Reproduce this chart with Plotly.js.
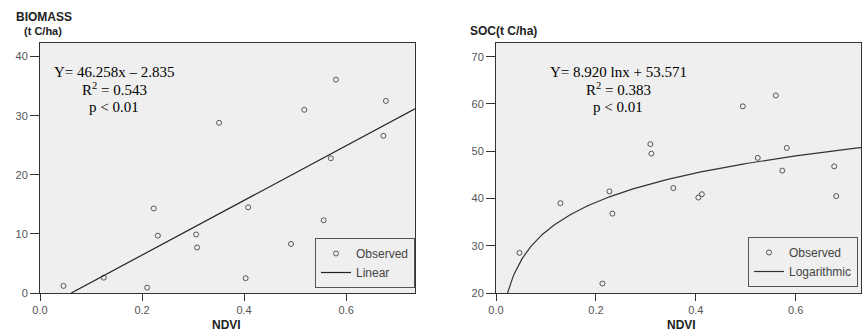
<!DOCTYPE html>
<html>
<head>
<meta charset="utf-8">
<script src="https://cdn.plot.ly/plotly-3.0.1.min.js"></script>
<style>html,body{margin:0;padding:0;background:#fff;}#chart{width:862px;height:333px;}</style>
</head>
<body>
<div id="chart"></div>
<script>
// Left panel: biomass vs NDVI
const ndviBiomass = [0.046, 0.125, 0.210, 0.223, 0.231, 0.306, 0.308, 0.351, 0.403, 0.408, 0.492, 0.518, 0.556, 0.570, 0.580, 0.673, 0.678];
const biomass     = [1.2, 2.6, 0.9, 14.3, 9.7, 9.9, 7.7, 28.8, 2.5, 14.5, 8.3, 31.0, 12.3, 22.8, 36.1, 26.6, 32.5];
// Right panel: SOC vs NDVI
const ndviSoc = [0.047, 0.129, 0.213, 0.227, 0.233, 0.309, 0.311, 0.355, 0.405, 0.412, 0.494, 0.524, 0.560, 0.573, 0.582, 0.677, 0.681];
const soc     = [28.5, 39.0, 22.0, 41.5, 36.8, 51.5, 49.5, 42.2, 40.2, 40.9, 59.5, 48.6, 61.8, 45.9, 50.7, 46.8, 40.5];
// Fitted models shown on the chart
const linearFit = [46.258, -2.835];   // Y = a x + b
const logFit    = [8.920, 53.571];    // Y = a ln x + b
// Axis ticks
const xTicks = [0, 0.2, 0.4, 0.6];
const xTickText = ["0.0", "0.2", "0.4", "0.6"];
const yTicksBiomass = [0, 10, 20, 30, 40];
const yTicksSoc = [20, 30, 40, 50, 60, 70];

const W = 862, H = 333;
const xRangeL = [0, 0.735], yRangeL = [0, 42.3];
const xRangeR = [0, 0.7306], yRangeR = [20, 72.9];

// Linear fit line: from where it crosses 0 to the right edge
const linX = [-linearFit[1] / linearFit[0], xRangeL[1]];
const linY = linX.map(x => linearFit[0] * x + linearFit[1]);
// Log fit curve: from where it crosses the axis minimum to the right edge
const logStart = Math.exp((yRangeR[0] - logFit[1]) / logFit[0]);
const logX = [];
for (let i = 0; i <= 200; i++) logX.push(logStart + (xRangeR[1] - logStart) * i / 200);
const logY = logX.map(x => logFit[0] * Math.log(x) + logFit[1]);

const markerStyle = {symbol: 'circle-open', size: 5, color: '#555', line: {width: 1, color: '#555'}};
const lineStyle = {color: '#222', width: 1.2};

const traces = [
  {x: ndviBiomass, y: biomass, type: 'scatter', mode: 'markers', name: 'Observed', marker: markerStyle, xaxis: 'x', yaxis: 'y', legend: 'legend'},
  {x: linX, y: linY, type: 'scatter', mode: 'lines', name: 'Linear', line: lineStyle, xaxis: 'x', yaxis: 'y', legend: 'legend'},
  {x: ndviSoc, y: soc, type: 'scatter', mode: 'markers', name: 'Observed', marker: markerStyle, xaxis: 'x2', yaxis: 'y2', legend: 'legend2'},
  {x: logX, y: logY, type: 'scatter', mode: 'lines', name: 'Logarithmic', line: {color: '#333', width: 1.2}, xaxis: 'x2', yaxis: 'y2', legend: 'legend2'}
];

const tickFont = {family: 'Arial, Liberation Sans, sans-serif', size: 11, color: '#555'};
const axisCommon = {
  showline: true, mirror: true, linecolor: '#333', linewidth: 1,
  ticks: 'outside', tickcolor: '#333', tickwidth: 1,
  showgrid: false, zeroline: false, tickfont: tickFont, fixedrange: true
};
const yDom = [(H - 293) / H, (H - 43) / H];

const legendCommon = {
  bgcolor: '#efefef', bordercolor: '#555', borderwidth: 1,
  font: {family: 'Arial, Liberation Sans, sans-serif', size: 12, color: '#444'},
  xanchor: 'right', yanchor: 'bottom', tracegroupgap: 0, itemwidth: 30
};

const eqFont = {family: 'Liberation Serif, Times New Roman, serif', size: 15, color: '#000'};
const titleFont = {family: 'Arial, Liberation Sans, sans-serif', size: 12, color: '#222', weight: 'bold'};

function ann(text, px, py, font, xanchor) {
  return {text: text, x: px / W, y: 1 - py / H, xref: 'paper', yref: 'paper', showarrow: false,
          xanchor: xanchor || 'center', yanchor: 'middle', font: font};
}

const layout = {
  width: W, height: H,
  margin: {l: 0, r: 0, t: 0, b: 0},
  paper_bgcolor: '#fff', plot_bgcolor: '#efefef',
  xaxis: Object.assign({}, axisCommon, {domain: [40 / W, 415 / W], range: xRangeL, tickvals: xTicks, ticktext: xTickText, anchor: 'y', ticklen: 7}),
  yaxis: Object.assign({}, axisCommon, {domain: yDom, range: yRangeL, tickvals: yTicksBiomass, anchor: 'x', ticklen: 9}),
  xaxis2: Object.assign({}, axisCommon, {domain: [496 / W, 861 / W], range: xRangeR, tickvals: xTicks, ticktext: xTickText, anchor: 'y2', ticklen: 7}),
  yaxis2: Object.assign({}, axisCommon, {domain: yDom, range: yRangeR, tickvals: yTicksSoc, anchor: 'x2', ticklen: 9}),
  legend: Object.assign({}, legendCommon, {x: 415 / W, y: 1 - 288 / H}),
  legend2: Object.assign({}, legendCommon, {x: 858 / W, y: 1 - 287 / H}),
  showlegend: true,
  annotations: [
    ann('<b>BIOMASS</b>', 44, 17, Object.assign({}, titleFont, {size: 12})),
    ann('<b>(t C/ha)</b>', 43, 31, Object.assign({}, titleFont, {size: 11})),
    ann('<b>SOC(t C/ha)</b>', 468, 31, Object.assign({}, titleFont, {size: 12}), 'left'),
    ann('<b>NDVI</b>', 227, 325, Object.assign({}, titleFont, {size: 12})),
    ann('<b>NDVI</b>', 681, 325, Object.assign({}, titleFont, {size: 12})),
    ann('Y= 46.258x \u2013 2.835', 114, 72, eqFont),
    ann('R<sup>2</sup> = 0.543', 114, 89, eqFont),
    ann('p &lt; 0.01', 114, 107, eqFont),
    ann('Y= 8.920 lnx + 53.571', 618, 72, eqFont),
    ann('R<sup>2</sup> = 0.383', 618, 89, eqFont),
    ann('p &lt; 0.01', 618, 107, eqFont)
  ]
};

Plotly.newPlot('chart', traces, layout, {displayModeBar: false, staticPlot: true});
</script>
</body>
</html>
